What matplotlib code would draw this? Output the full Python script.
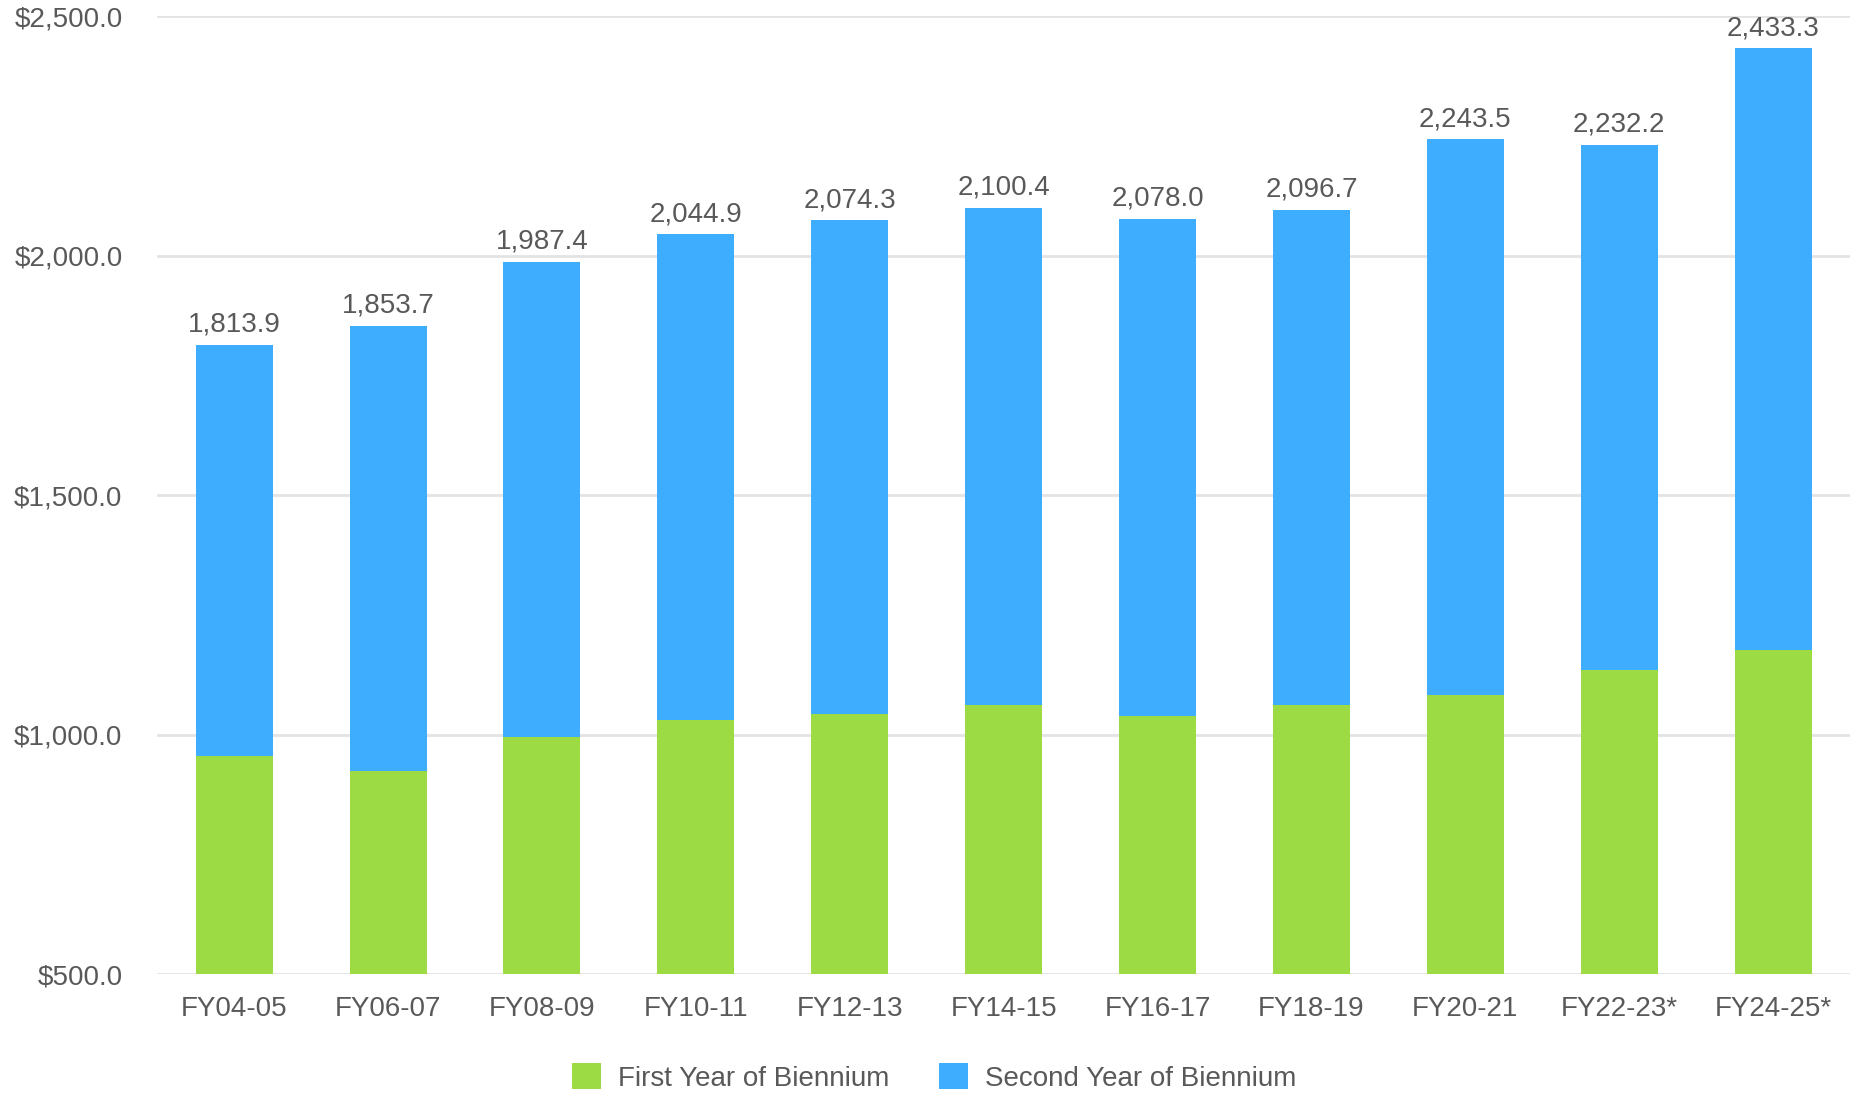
import matplotlib
matplotlib.use("Agg")
import matplotlib.pyplot as plt
import numpy as np

# biennium labels and values ($ millions)
periods = ["FY04-05", "FY06-07", "FY08-09", "FY10-11", "FY12-13", "FY14-15",
           "FY16-17", "FY18-19", "FY20-21", "FY22-23*", "FY24-25*"]
totals = [1813.9, 1853.7, 1987.4, 2044.9, 2074.3, 2100.4,
          2078.0, 2096.7, 2243.5, 2232.2, 2433.3]
first_year = [955, 924, 995, 1030, 1044, 1062, 1039, 1062, 1083, 1135, 1176]
second_year = [t - f for t, f in zip(totals, first_year)]

green = "#9ddb44"
blue = "#3fadfe"
grid_c = "#e3e3e3"
text_c = "#595959"
fs = 20

plt.rcParams['font.family'] = ['Liberation Sans', 'DejaVu Sans']

fig = plt.figure(figsize=(18.5, 10.97), dpi=100)
ax = fig.add_axes([0.085, 0.112, 0.915, 0.873])

x = np.arange(len(periods))
ax.bar(x, first_year, width=0.5, color=green, label="First Year of Biennium", zorder=2)
ax.bar(x, second_year, width=0.5, bottom=first_year, color=blue,
       label="Second Year of Biennium", zorder=2)

for xi, t in zip(x, totals):
    ax.text(xi, t + 15, f"{t:,.1f}", ha='center', va='bottom',
            fontsize=fs, color=text_c)

ax.set_ylim(500, 2500)
ax.set_xlim(-0.5, len(periods) - 0.5)
ax.set_yticks([500, 1000, 1500, 2000, 2500])
ax.set_yticklabels([f"${v:,.1f}" for v in [500, 1000, 1500, 2000, 2500]])
ax.set_xticks(x)
ax.set_xticklabels(periods)
ax.tick_params(axis='both', length=0, labelsize=fs, labelcolor=text_c)
ax.tick_params(axis='y', pad=25)
ax.tick_params(axis='x', pad=16)

ax.grid(axis='y', color=grid_c, linewidth=2, zorder=0)
for s in ax.spines.values():
    s.set_visible(False)

fig.legend(loc='lower center', bbox_to_anchor=(0.505, -0.018), ncol=2, frameon=False,
           fontsize=fs, labelcolor=text_c, handlelength=1.05, handleheight=1.05,
           columnspacing=1.8, handletextpad=0.6)

fig.savefig("out.png", dpi=100)
